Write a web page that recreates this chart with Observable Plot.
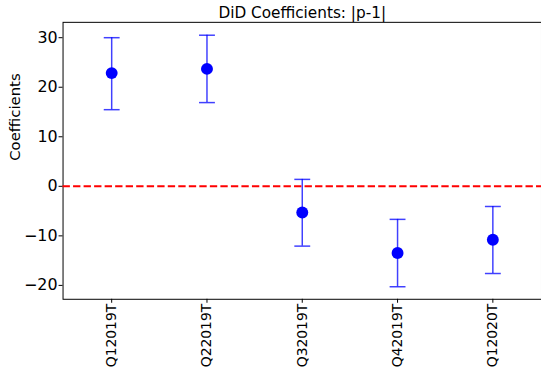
<!DOCTYPE html>
<html>
<head>
<meta charset="utf-8">
<script src="https://cdn.jsdelivr.net/npm/d3@7"></script>
<script src="https://cdn.jsdelivr.net/npm/@observablehq/plot@0.6"></script>
<style>
  html, body { margin: 0; padding: 0; background: #fff; overflow: hidden; width: 541px; height: 371px; }
  #chart svg { display: block; }
</style>
</head>
<body>
<div id="chart"></div>
<script>
const categories = ["Q12019T", "Q22019T", "Q32019T", "Q42019T", "Q12020T"];
const coefficients = [22.85, 23.7, -5.27, -13.47, -10.8];
const lowerBounds = [15.47, 16.9, -12.07, -20.27, -17.6];
const upperBounds = [30.0, 30.5, 1.4, -6.67, -4.07];
const yTicks = [-20, -10, 0, 10, 20, 30];
const yDomain = [-22.8, 33.1];
const title = "DiD Coefficients: |p-1|";
const yLabel = "Coefficients";

const data = categories.map((c, i) => ({
  cat: c, coef: coefficients[i], lo: lowerBounds[i], hi: upperBounds[i]
}));

const capSymbol = {
  draw(context, size) {
    context.moveTo(-8, 0);
    context.lineTo(8, 0);
  }
};

const barColor = "#0000ff";
const barOpacity = 0.75;

const chart = Plot.plot({
  width: 545,
  height: 371,
  marginLeft: 63,
  marginRight: 0,
  marginTop: 22,
  marginBottom: 70,
  style: { fontFamily: "DejaVu Sans", fontSize: "16px", color: "#000", background: "#fff" },
  x: { type: "point", domain: categories, padding: 0.5 },
  y: { domain: yDomain },
  marks: [
    Plot.frame({ stroke: "#000", strokeWidth: 1 }),
    Plot.axisY({ ticks: yTicks, tickSize: 4, tickPadding: 1.5, label: null, fontSize: 16 }),
    Plot.text([yLabel], { frameAnchor: "left", dx: -48, rotate: -90, fontSize: 15, fill: "#000", lineAnchor: "middle" }),
    Plot.axisX({ tickSize: 4, tickPadding: 0.5, tickRotate: -90, label: null, fontSize: 14 }),
    Plot.ruleX(data, { x: "cat", y1: "lo", y2: "hi", stroke: barColor, strokeOpacity: barOpacity, strokeWidth: 1.5 }),
    Plot.dot(data, { x: "cat", y: "hi", symbol: capSymbol, r: 8, stroke: barColor, strokeOpacity: barOpacity, strokeWidth: 1.5, fill: "none" }),
    Plot.dot(data, { x: "cat", y: "lo", symbol: capSymbol, r: 8, stroke: barColor, strokeOpacity: barOpacity, strokeWidth: 1.5, fill: "none" }),
    Plot.ruleY([0], { stroke: "red", strokeWidth: 2, strokeDasharray: "7.4,3.2" }),
    Plot.dot(data, { x: "cat", y: "coef", r: 6, fill: barColor, stroke: "none" }),
    Plot.text([title], { frameAnchor: "top", dy: -4, lineAnchor: "bottom", fontSize: 15.4, fill: "#000" })
  ]
});

document.getElementById("chart").appendChild(chart);
</script>
</body>
</html>
